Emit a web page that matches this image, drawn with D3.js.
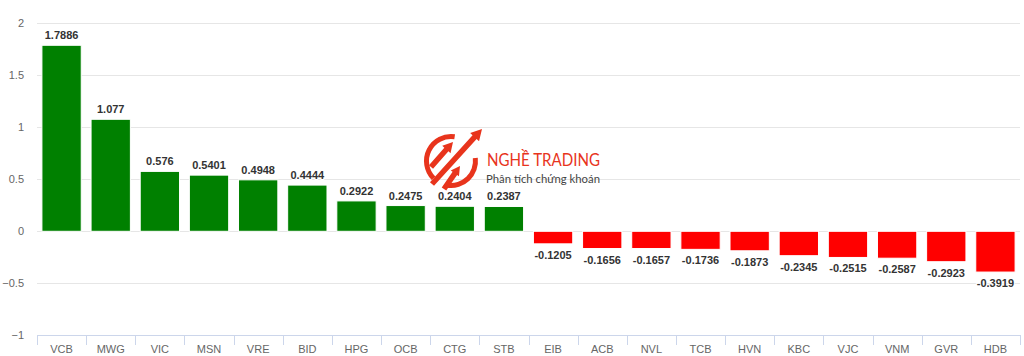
<!DOCTYPE html>
<html><head><meta charset="utf-8">
<script src="https://cdn.jsdelivr.net/npm/d3@7/dist/d3.min.js"></script>
<style>html,body{margin:0;padding:0;background:#fff}svg{display:block}</style>
</head><body><svg id="c" width="1024" height="356"></svg>
<script>
const categories = ["VCB","MWG","VIC","MSN","VRE","BID","HPG","OCB","CTG","STB","EIB","ACB","NVL","TCB","HVN","KBC","VJC","VNM","GVR","HDB"];
const values = [1.7886,1.077,0.576,0.5401,0.4948,0.4444,0.2922,0.2475,0.2404,0.2387,-0.1205,-0.1656,-0.1657,-0.1736,-0.1873,-0.2345,-0.2515,-0.2587,-0.2923,-0.3919];
const yTicks = [-1,-0.5,0,0.5,1,1.5,2];

const svg = d3.select("#c");
const font = "Helvetica, Arial, 'Liberation Sans', sans-serif";
const L = 37, R = 1020, T = 23.3, B = 335.3;
const x = d3.scaleBand().domain(categories).range([L, R]).paddingInner(0.2).paddingOuter(0.1);
const xb = d3.scaleBand().domain(categories).range([L, R]);
const y = d3.scaleLinear().domain([-1, 2]).range([B, T]);

// grid
svg.append("g").selectAll("line").data(yTicks.filter(d => d !== -1)).join("line")
  .attr("x1", L).attr("x2", R).attr("y1", d => Math.round(y(d)) + 0.5).attr("y2", d => Math.round(y(d)) + 0.5)
  .attr("stroke", "#e6e6e6").attr("stroke-width", 1);

// y labels
svg.append("g").selectAll("text").data(yTicks).join("text")
  .attr("x", 24).attr("y", d => y(d) + 4).attr("text-anchor", "end")
  .attr("font-family", font).attr("font-size", 11).attr("fill", "#666666")
  .text(d => d3.format("")(d));

// logo watermark
const red = "#e8341c";
const logo = svg.append("g").attr("transform", "translate(451,161)");
const arc = d3.arc().innerRadius(22).outerRadius(27);
logo.append("path").attr("d", arc({startAngle: -2.35, endAngle: 0.15})).attr("fill", red);
logo.append("path").attr("d", arc({startAngle: 1.45, endAngle: 3.3})).attr("fill", red);
function arrow(x0, y0, x1, y1, w, hl, hw) {
  const dx = x1 - x0, dy = y1 - y0, len = Math.hypot(dx, dy);
  const ux = dx / len, uy = dy / len, nx = -uy, ny = ux;
  const bx = x1 - ux * hl, by = y1 - uy * hl;
  const p = [
    [x0 + nx * w / 2, y0 + ny * w / 2], [bx + nx * w / 2, by + ny * w / 2], [bx + nx * hw / 2, by + ny * hw / 2],
    [x1, y1], [bx - nx * hw / 2, by - ny * hw / 2], [bx - nx * w / 2, by - ny * w / 2], [x0 - nx * w / 2, y0 - ny * w / 2]
  ];
  return "M" + p.map(q => q.join(",")).join("L") + "Z";
}
logo.append("path").attr("d", arrow(-19, 23, 31, -32, 5.5, 11, 12)).attr("fill", red);
logo.append("path").attr("d", arrow(-20, 6, 2, -19, 5.5, 10, 11)).attr("fill", red);
logo.append("path").attr("d", arrow(-7, 28, 9, 5, 5.5, 9, 10)).attr("fill", red);
svg.append("text").attr("x", 487).attr("y", 165.5).attr("font-family", "Lato, 'Open Sans', sans-serif")
  .attr("font-size", 16.5).attr("fill", red).attr("textLength", 113).attr("lengthAdjust", "spacingAndGlyphs")
  .text("NGHỀ TRADING");
svg.append("text").attr("x", 486).attr("y", 183).attr("font-family", "Lato, 'Open Sans', sans-serif")
  .attr("font-size", 11.5).attr("fill", "#444").attr("textLength", 114).attr("lengthAdjust", "spacingAndGlyphs")
  .text("Phân tích chứng khoán");

// bars
const data = categories.map((c, i) => ({c, v: values[i]}));
svg.append("g").selectAll("rect").data(data).join("rect")
  .attr("x", d => x(d.c)).attr("width", x.bandwidth())
  .attr("y", d => Math.min(y(d.v), y(0))).attr("height", d => Math.abs(y(d.v) - y(0)))
  .attr("fill", d => d.v >= 0 ? "#008000" : "#ff0000")
  .attr("stroke", "#ffffff").attr("stroke-width", 1);

// data labels
svg.append("g").selectAll("text").data(data).join("text")
  .attr("x", d => x(d.c) + x.bandwidth() / 2)
  .attr("y", d => d.v >= 0 ? y(d.v) - 6 : y(d.v) + 15)
  .attr("text-anchor", "middle").attr("font-family", font).attr("font-size", 11).attr("font-weight", "bold")
  .attr("fill", "#333333").attr("stroke", "#ffffff").attr("stroke-width", 2).attr("paint-order", "stroke")
  .text(d => d.v);

// x axis
svg.append("line").attr("x1", L).attr("x2", R).attr("y1", Math.round(B) + 0.5).attr("y2", Math.round(B) + 0.5)
  .attr("stroke", "#ccd6eb");
const tickPos = categories.map(c => xb(c)).concat([R]);
svg.append("g").selectAll("line").data(tickPos).join("line")
  .attr("x1", d => Math.round(d) + 0.5).attr("x2", d => Math.round(d) + 0.5)
  .attr("y1", Math.round(B)).attr("y2", Math.round(B) + 10).attr("stroke", "#ccd6eb");
svg.append("g").selectAll("text").data(categories).join("text")
  .attr("x", d => xb(d) + xb.bandwidth() / 2).attr("y", 353)
  .attr("text-anchor", "middle").attr("font-family", font).attr("font-size", 11).attr("fill", "#666666")
  .text(d => d);
</script></body></html>
